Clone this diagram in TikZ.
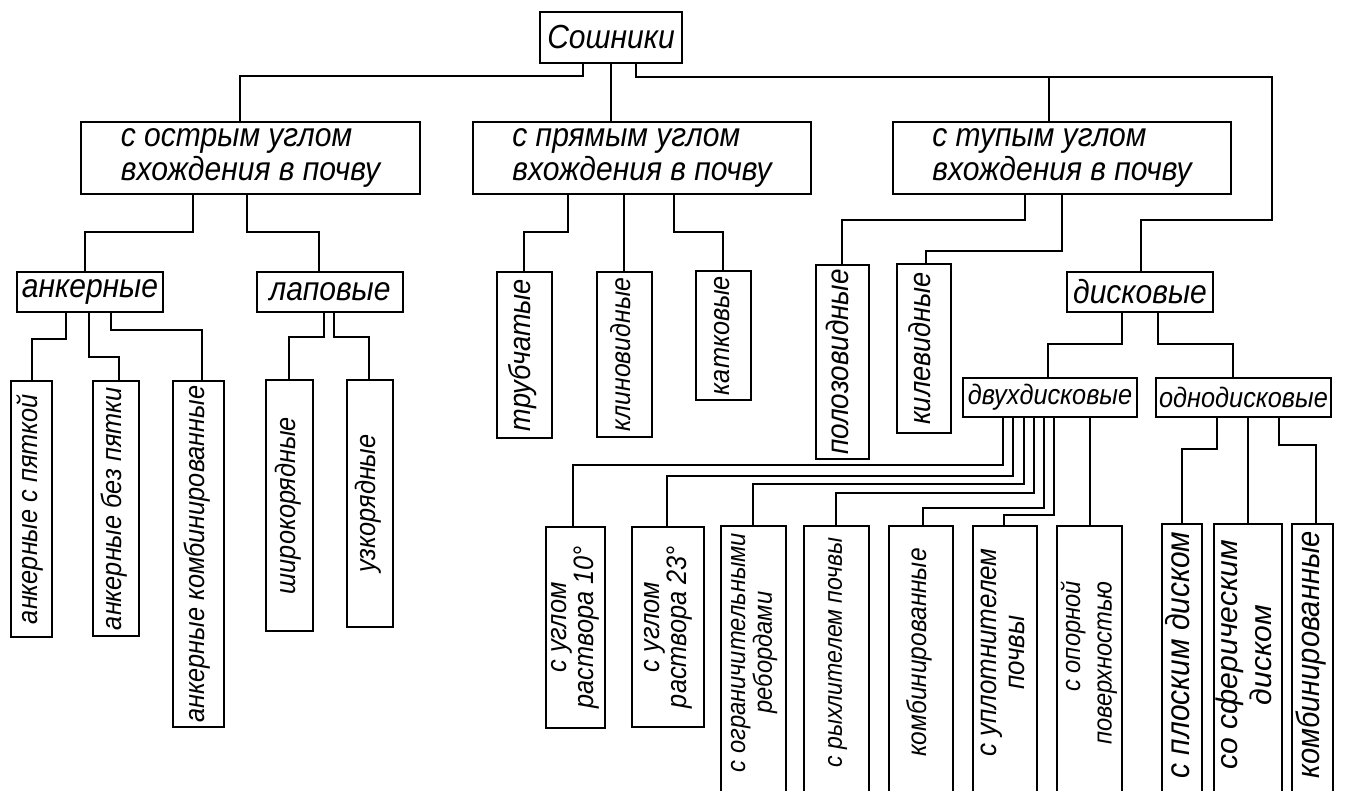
\documentclass[tikz,border=0pt]{standalone}
\usepackage{fontspec}
\setmainfont{Liberation Sans}[FakeStretch=0.9]
\usepackage{graphicx}

% italic text of a given size and line distance
\newcommand{\fs}[2]{\fontsize{#1}{#2}\selectfont\itshape}
% vertical label, optional padding at its lower end
\newcommand{\vlab}[2][0pt]{\rotatebox{90}{\hspace*{#1}\begin{tabular}{@{}c@{}}#2\end{tabular}}}

\begin{document}
\begin{tikzpicture}[
    x=0.02cm, y=-0.02cm,
    box/.style={draw, line width=1.1pt, inner sep=0pt},
    sz/.style 2 args={minimum width=#1*0.02cm, minimum height=#2*0.02cm},
    cat/.style={box, align=left, font=\fs{19}{19.5}},
    kind/.style={box, font=\fs{19}{19.5}},
    sub/.style={box, font=\fs{16}{17}},
    leaf/.style={box, font=\fs{16}{17}},
    link/.style={line width=0.75pt}
]
\useasboundingbox (0,0) rectangle (1346,791);
\clip (0,0) rectangle (1346,791);

% top
\node[kind, sz={142}{51}] (root) at (611,37.5) {Сошники};

% angle of entry
\node[cat, sz={339}{72}] (sharp) at (250.5,158) {с острым углом\\вхождения в почву};
\node[cat, sz={338}{72}] (straight) at (642,158) {с прямым углом\\вхождения в почву};
\node[cat, sz={338}{72}] (blunt) at (1062,158) {с тупым углом\\вхождения в почву};

% kinds
\node[kind, sz={146}{40}] (anchor) at (90,292) {анкерные};
\node[kind, sz={146}{40}] (paw) at (330,292) {лаповые};
\node[kind, sz={146}{40}] (disc) at (1140,292) {дисковые};
\node[sub, sz={174}{39}] (twodisc) at (1050,397.5) {двухдисковые};
\node[sub, sz={175}{39}] (onedisc) at (1243.5,397.5) {однодисковые};

% anchor and paw leaves
\node[leaf, sz={41}{256}] (a1) at (31.5,509) {\vlab{анкерные с пяткой}};
\node[leaf, sz={46}{255}] (a2) at (116,508.5) {\vlab{анкерные без пятки}};
\node[leaf, sz={51}{346}] (a3) at (198.5,554) {\vlab{анкерные комбинированные}};
\node[leaf, sz={47}{251}] (p1) at (289.5,505.5) {\vlab{широкорядные}};
\node[leaf, sz={46}{247}] (p2) at (370,503.5) {\vlab{узкорядные}};

% straight and blunt leaves
\node[leaf, sz={55}{166}, font=\fs{17.2}{18}] (r1) at (524.5,355) {\vlab{трубчатые}};
\node[leaf, sz={55}{165}, font=\fs{15.7}{17}] (r2) at (624.5,354.5) {\vlab{клиновидные}};
\node[leaf, sz={55}{129}, font=\fs{16}{17}] (r3) at (723.5,335.5) {\vlab{катковые}};
\node[leaf, sz={53}{194}, font=\fs{17.6}{18}] (o1) at (842.5,362) {\vlab{полозовидные}};
\node[leaf, sz={54}{169}, font=\fs{17.2}{18}] (o2) at (924,348.5) {\vlab{килевидные}};

% two-disc leaves
\node[leaf, sz={59}{201}, font=\fs{16}{13.5}] (t1) at (575.5,627.5) {\vlab{с углом\\раствора 10°}};
\node[leaf, sz={72}{200}, font=\fs{16}{13.5}] (t2) at (668,627) {\vlab{с углом\\раствора 23°}};
\node[leaf, sz={65}{274}, font=\fs{15}{14}] (t3) at (753.5,663) {\vlab[0.42cm]{с ограничительными\\ребордами}};
\node[leaf, sz={65}{274}, font=\fs{14.6}{15}] (t4) at (836.5,663) {\vlab[0.42cm]{с рыхлителем почвы}};
\node[leaf, sz={64}{274}, font=\fs{15.5}{16}] (t5) at (921,663) {\vlab[0.42cm]{комбинированные}};
\node[leaf, sz={64}{274}, font=\fs{16.4}{15.5}] (t6) at (1005,663) {\vlab[0.42cm]{с уплотнителем\\почвы}};
\node[leaf, sz={65}{274}, font=\fs{15}{18}] (t7) at (1089.5,663) {\rotatebox{90}{\begin{tabular}{@{}r@{}}с опорной\\поверхностью\end{tabular}}};

% one-disc leaves
\node[leaf, sz={40}{276}, font=\fs{18.9}{19}] (d1) at (1182,662) {\vlab[0.28cm]{с плоским диском}};
\node[leaf, sz={68}{276}, font=\fs{17}{19.2}] (d2) at (1248,662) {\rotatebox{90}{\hspace*{0.28cm}\scalebox{1.12}[1]{\begin{tabular}{@{}c@{}}со сферическим\\диском\end{tabular}}}};
\node[leaf, sz={41}{276}, font=\fs{18.4}{19}] (d3) at (1312.5,662) {\vlab[0.28cm]{комбинированные}};

% root branches
\draw[link] (root.south -| 583,0) |- (240,76) -- (sharp.north -| 240,0);
\draw[link] (root.south) -- (root.south |- straight.north);
\draw[link] (root.south -| 636,0) |- (1049,77) -- (blunt.north -| 1049,0);
\draw[link] (root.south -| 636,0) |- (1272,77) |- (1141,220) -- (disc.north -| 1141,0);

% sharp
\draw[link] (sharp.south -| 193,0) |- (85,232) -- (anchor.north -| 85,0);
\draw[link] (sharp.south -| 247,0) |- (319,232) -- (paw.north -| 319,0);

% straight
\draw[link] (straight.south -| 568,0) |- (524,232) -- (r1.north -| 524,0);
\draw[link] (straight.south -| 624,0) -- (r2.north -| 624,0);
\draw[link] (straight.south -| 674,0) |- (723,232) -- (r3.north -| 723,0);

% blunt
\draw[link] (blunt.south -| 1025,0) |- (842,220) -- (o1.north -| 842,0);
\draw[link] (blunt.south) |- (926,251) -- (o2.north -| 926,0);

% anchor
\draw[link] (anchor.south -| 66,0) |- (32,339) -- (a1.north -| 32,0);
\draw[link] (anchor.south -| 89,0) |- (119,357) -- (a2.north -| 119,0);
\draw[link] (anchor.south -| 111,0) |- (202,330) -- (a3.north -| 202,0);

% paw
\draw[link] (paw.south -| 324,0) |- (289,337) -- (p1.north -| 289,0);
\draw[link] (paw.south -| 334,0) |- (369,337) -- (p2.north -| 369,0);

% disc
\draw[link] (disc.south -| 1122,0) |- (1048,344) -- (twodisc.north -| 1048,0);
\draw[link] (disc.south -| 1158,0) |- (1233,344) -- (onedisc.north -| 1233,0);

% two-disc
\draw[link] (twodisc.south -| 1003,0) |- (573,465) -- (t1.north -| 573,0);
\draw[link] (twodisc.south -| 1013,0) |- (667,476) -- (t2.north -| 667,0);
\draw[link] (twodisc.south -| 1024,0) |- (753,484) -- (t3.north -| 753,0);
\draw[link] (twodisc.south -| 1034,0) |- (836,493) -- (t4.north -| 836,0);
\draw[link] (twodisc.south -| 1044,0) |- (923,508) -- (t5.north -| 923,0);
\draw[link] (twodisc.south -| 1054,0) |- (1004,515) -- (t6.north -| 1004,0);
\draw[link] (twodisc.south -| 1090,0) -- (t7.north -| 1090,0);

% one-disc
\draw[link] (onedisc.south -| 1217,0) |- (1182,449) -- (d1.north -| 1182,0);
\draw[link] (onedisc.south -| 1248,0) -- (d2.north -| 1248,0);
\draw[link] (onedisc.south -| 1279,0) |- (1316,445) -- (d3.north -| 1316,0);

\end{tikzpicture}
\end{document}
